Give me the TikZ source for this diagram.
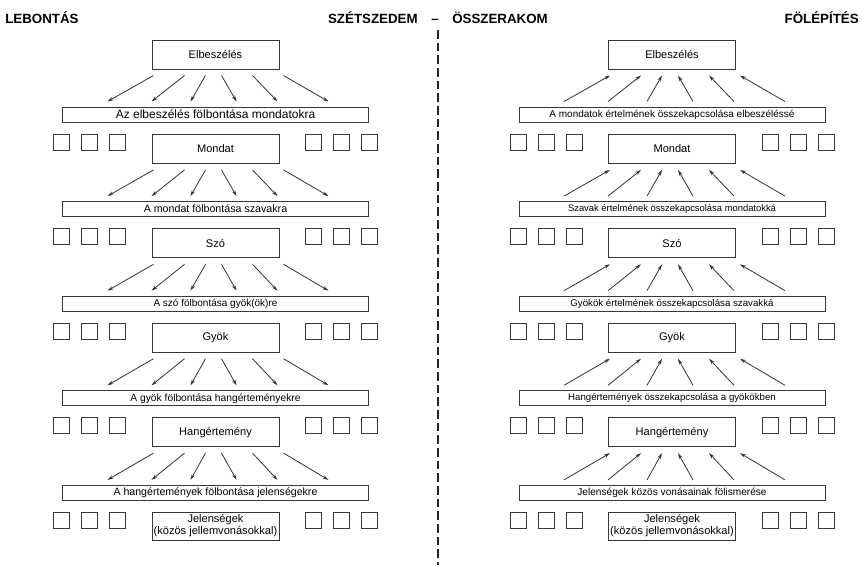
\documentclass[tikz,border=0pt]{standalone}
\usepackage{fontspec}
\setmainfont{Liberation Sans}
\usetikzlibrary{arrows.meta,calc}
\begin{document}
\begin{tikzpicture}[x=0.75pt,y=-0.75pt,
  ln/.style={draw=black!78,line width=0.75pt},
  mainbox/.style={ln,minimum width=95.25pt,minimum height=21.75pt,inner sep=0pt,align=center,font=\fontsize{8.3}{9}\selectfont},
  widebox/.style={ln,minimum width=229.5pt,minimum height=11.25pt,inner sep=0pt},
  sq/.style={ln,minimum size=12pt,inner sep=0pt},
  arr/.style={draw=black!80,line width=0.6pt,-{Stealth[length=4.5pt,width=2.6pt]}},
  hdr/.style={font=\bfseries\fontsize{10}{12}\selectfont,inner sep=0pt}
]
\useasboundingbox (0,0) rectangle (862,565);
\fill[white] (0,0) rectangle (862,565);

% headers
\node[hdr,anchor=base west] (h1) at (5,23) {LEBONTÁS};
\node[hdr,anchor=base east] (h2) at (418,23) {SZÉTSZEDEM};
\node[hdr,anchor=base] (h3) at (435,23) {--};
\node[hdr,anchor=base west] (h4) at (452,23) {ÖSSZERAKOM};
\node[hdr,anchor=base east] (h5) at (859,23) {FÖLÉPÍTÉS};

% divider
\coordinate (dtop) at (438,30);
\coordinate (dbot) at (438,565);
\draw[black!85,line width=1.2pt,dash pattern=on 6.5pt off 3pt] (dtop) -- (dbot);

% main boxes
\foreach \k/\t in {0/Elbeszélés,1/Mondat,2/Szó,3/Gyök,4/Hangértemény} {
  \node[mainbox] (L\k) at (215.5,{54.5+94.4*\k}) {\t};
  \node[mainbox] (R\k) at (672,{54.5+94.4*\k}) {\t};
}
\node[mainbox,minimum height=21pt] (L5) at (215.5,526) {Jelenségek\\(közös jellemvonásokkal)};
\node[mainbox,minimum height=21pt] (R5) at (672,526) {Jelenségek\\(közös jellemvonásokkal)};

% squares
\foreach \k in {1,...,5} {
  \foreach \o [count=\j] in {-154,-126,-98,98,126,154} {
    \node[sq] (sqL\k\j) at ({215.5+\o},{48+94.4*\k}) {};
    \node[sq] (sqR\k\j) at ({672+\o},{48+94.4*\k}) {};
  }
}

% wide boxes left
\foreach \k/\fs/\t in {
  0/9/Az elbeszélés fölbontása mondatokra,
  1/8/A mondat fölbontása szavakra,
  2/7.5/A szó fölbontása gyök(ök)re,
  3/7.7/A gyök fölbontása hangértemé­nyekre,
  4/7.95/A hangértemények fölbontása jelenségekre} {
  \node[widebox,font=\fontsize{\fs}{10}\selectfont] (W\k) at (215.5,{114.5+94.6*\k}) {\t};
}
% wide boxes right
\foreach \k/\fs/\t in {
  0/7.5/A mondatok értelmének összekapcsolása elbeszéléssé,
  1/7.05/Szavak értelmének összekapcsolása mondatokká,
  2/7.27/Gyökök értelmének összekapcsolása szavakká,
  3/7.26/Hangértemények összekapcsolása a gyökökben,
  4/7.6/Jelenségek közös vonásainak fölismerése} {
  \node[widebox,font=\fontsize{\fs}{10}\selectfont] (V\k) at (672,{114.5+94.6*\k}) {\t};
}

% arrows
\foreach \k in {0,...,4} {
  \foreach \s/\e in {-62/-108,-31/-64,-10/-25,6/21,37/62,68/113} {
    \draw[arr] ($(L\k.south)+(\s,6)$) -- ($(W\k.north)+(\e,-5)$);
    \draw[arr] ($(V\k.north)+(\e,-5)$) -- ($(R\k.south)+(\s,6)$);
  }
}
\end{tikzpicture}
\end{document}
